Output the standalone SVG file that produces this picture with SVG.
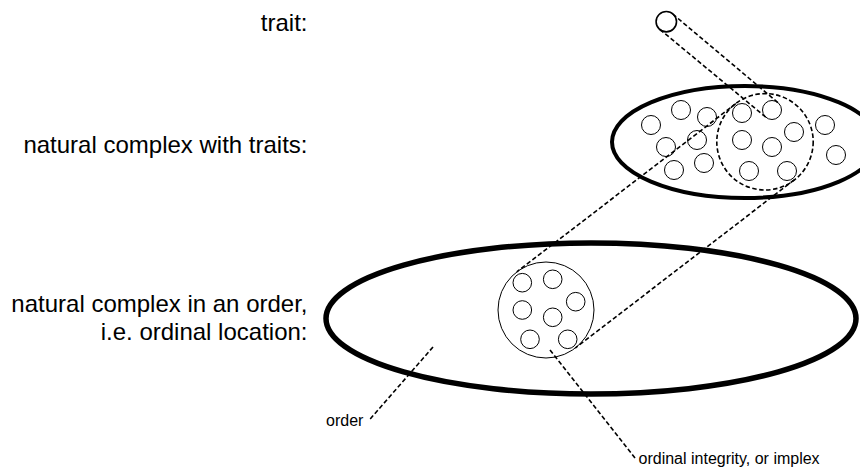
<svg xmlns="http://www.w3.org/2000/svg" width="860" height="469" viewBox="0 0 860 469">
<style>
  .lbl { font-family: "Liberation Sans", Arial, sans-serif; font-size: 24px; fill: #000; text-anchor: end; }
  .small { font-family: "Liberation Sans", Arial, sans-serif; font-size: 16px; fill: #000; }
  .dot { fill: none; stroke: #000; stroke-width: 1; }
  .thick { fill: none; stroke: #000; }
  .dash { fill: none; stroke: #000; stroke-width: 1.6; stroke-dasharray: 4.5 2.5; }
</style>
<rect width="860" height="469" fill="#fff"/>

<g id="labels">
  <text class="lbl" x="307.5" y="30.5">trait:</text>
  <text class="lbl" x="307.5" y="152.5">natural complex with traits:</text>
  <text class="lbl" x="307.5" y="311.5">natural complex in an order,</text>
  <text class="lbl" x="307.5" y="340">i.e. ordinal location:</text>
</g>

<g id="trait">
  <circle cx="666.3" cy="21.7" r="10.2" fill="none" stroke="#000" stroke-width="1.6"/>
</g>

<g id="complex-with-traits">
  <ellipse class="thick" cx="745" cy="142" rx="133" ry="56" stroke-width="4"/>
  <circle class="dot" cx="651" cy="125" r="9.5"/>
  <circle class="dot" cx="681" cy="110" r="9.5"/>
  <circle class="dot" cx="707" cy="117" r="9.5"/>
  <circle class="dot" cx="742" cy="113" r="9.5"/>
  <circle class="dot" cx="772" cy="110" r="9.5"/>
  <circle class="dot" cx="666" cy="147" r="9.5"/>
  <circle class="dot" cx="697" cy="140" r="9.5"/>
  <circle class="dot" cx="742" cy="140" r="9.5"/>
  <circle class="dot" cx="794" cy="132" r="9.5"/>
  <circle class="dot" cx="772" cy="147" r="9.5"/>
  <circle class="dot" cx="825" cy="125" r="9.5"/>
  <circle class="dot" cx="674" cy="170" r="9.5"/>
  <circle class="dot" cx="704" cy="163" r="9.5"/>
  <circle class="dot" cx="749" cy="171" r="9.5"/>
  <circle class="dot" cx="787" cy="171" r="9.5"/>
  <circle class="dot" cx="836" cy="155" r="9.5"/>
  <circle class="dash" cx="765" cy="141.8" r="48.2" stroke-width="1.8"/>
</g>

<g id="ordinal-location">
  <ellipse class="thick" cx="591" cy="318.5" rx="265" ry="75.5" stroke-width="5.5"/>
</g>

<g id="implex">
  <circle class="dot" cx="546" cy="310" r="48"/>
  <circle class="dot" cx="522.3" cy="282.7" r="9.3"/>
  <circle class="dot" cx="552.7" cy="279.3" r="9.3"/>
  <circle class="dot" cx="575.7" cy="301.7" r="9.3"/>
  <circle class="dot" cx="522.3" cy="310" r="9.3"/>
  <circle class="dot" cx="552.7" cy="317.3" r="9.3"/>
  <circle class="dot" cx="530" cy="339.3" r="9.3"/>
  <circle class="dot" cx="567.7" cy="339.3" r="9.3"/>
</g>

<g id="connectors">
  <line class="dash" x1="672.7" y1="14" x2="778.1" y2="102.7"/>
  <line class="dash" x1="659.9" y1="29.4" x2="765.9" y2="117.3"/>
  <line class="dash" x1="735.8" y1="103.7" x2="516.8" y2="271.9"/>
  <line class="dash" x1="794.2" y1="179.9" x2="575.2" y2="348.1"/>
  <line class="dash" x1="433" y1="347" x2="369.3" y2="420"/>
  <line class="dash" x1="550" y1="350" x2="635" y2="458"/>
</g>

<g id="leader-labels">
  <text class="small" x="326" y="425.5">order</text>
  <text class="small" x="638.5" y="464">ordinal integrity, or implex</text>
</g>
</svg>
